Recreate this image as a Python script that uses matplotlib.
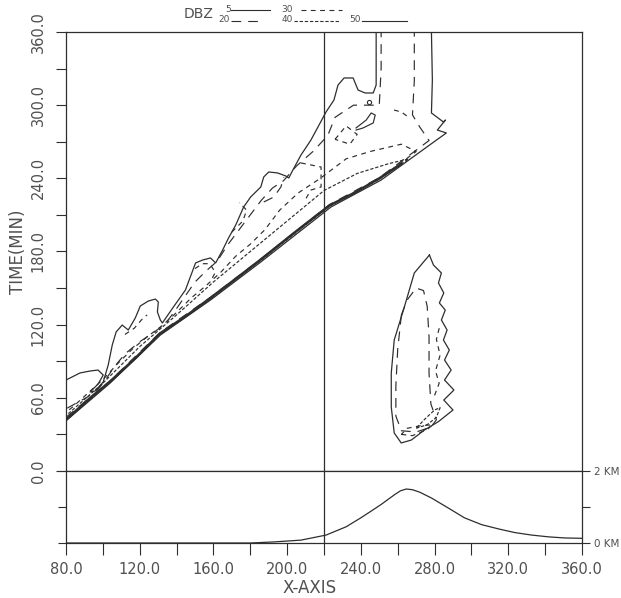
import numpy as np
import matplotlib
matplotlib.use("Agg")
import matplotlib.pyplot as plt
from matplotlib.lines import Line2D
from matplotlib.ticker import MultipleLocator

plt.rcParams['font.family'] = ['DejaVu Sans']
plt.rcParams['lines.scale_dashes'] = False

# ---------------- data (x-axis units, time in minutes) ----------------
# 5 dBZ outer contour of the propagating band (closed)
band5_x = [80.0, 87.6, 93.1, 97.4, 100.2, 97.4, 93.1, 95.8, 100.2, 102.9, 105.1, 107.2, 110.5,
           113.8, 117.6, 120.3, 124.7, 128.5, 130.1, 129.6, 131.2, 132.3, 138.3, 144.8, 150.3,
           154.1, 158.4, 161.2, 165.0, 168.2, 172.1, 176.4, 180.2, 185.7, 187.3, 190.0, 194.9,
           199.3, 200.9, 203.1, 207.5, 212.9, 217.3, 221.1, 225.4, 227.6, 230.9, 235.8, 238.5,
           242.3, 246.7, 248.3, 248.3, 278.3, 278.8, 278.3, 284.8, 285.9, 281.5, 286.4, 282.6,
           251.0, 223.8, 185.7, 158.4, 131.2, 104.0, 80.5, 80.0]
band5_t = [74.6, 80.4, 82.0, 82.8, 78.7, 71.3, 64.8, 65.6, 73.0, 86.9, 103.3, 114.0, 119.7,
           115.6, 125.5, 135.3, 139.4, 141.0, 138.6, 130.4, 123.8, 121.4, 134.5, 148.4, 170.6,
           173.0, 174.7, 170.6, 181.2, 191.1, 201.7, 216.5, 224.7, 232.9, 241.1, 245.2, 244.4,
           241.9, 240.3, 246.8, 259.1, 271.4, 283.7, 294.4, 304.2, 316.5, 322.3, 322.3, 312.4,
           310.0, 310.0, 316.5, 360.0, 360.0, 320.6, 293.6, 286.2, 287.8, 279.6, 277.2, 273.1,
           238.6, 216.5, 171.4, 140.2, 111.5, 72.2, 41.8, 40.2]

# 20 dBZ contour of the band
band20_x = [80.0, 104.0, 131.0, 158.0, 185.0, 223.0, 250.0, 277.0, 272.0, 268.0, 269.0, 269.0,
            251.0, 251.0, 250.0, 236.0, 226.0, 222.0, 214.0, 205.0, 198.0, 192.0, 186.0, 180.0,
            174.0, 168.0, 162.0, 156.0, 150.0, 144.0, 139.0, 134.0, 128.0, 120.0, 112.0, 106.0,
            102.0, 98.0, 92.0, 86.0, 80.0]
band20_t = [44.0, 74.0, 113.5, 142.0, 173.0, 218.5, 240.5, 271.0, 282.0, 292.0, 320.0, 360.0,
            360.0, 330.0, 300.0, 300.0, 290.0, 275.0, 262.0, 250.0, 238.0, 232.0, 222.0, 210.0,
            198.0, 186.0, 172.0, 164.0, 155.0, 142.0, 131.0, 121.0, 114.0, 106.0, 96.0, 85.0,
            76.0, 68.0, 61.0, 56.0, 51.0]

# 30 dBZ contour of the band
band30_x = [81.0, 104.0, 131.0, 158.0, 185.0, 223.0, 250.0, 270.0, 262.0, 245.0, 232.0, 218.0,
            206.0, 196.0, 188.0, 180.0, 172.0, 164.0, 156.0, 148.0, 140.0, 132.0, 124.0, 116.0,
            108.0, 100.0, 92.0, 84.0, 80.0]
band30_t = [43.0, 73.2, 112.5, 141.0, 172.5, 217.5, 239.5, 262.0, 268.0, 262.0, 256.0, 240.0,
            228.0, 214.0, 198.0, 186.0, 176.0, 163.0, 152.0, 142.0, 130.0, 119.0, 110.0, 100.0,
            88.0, 75.0, 64.0, 53.0, 48.0]

# 40 dBZ contour of the band
band40_x = [80.5, 104.0, 131.0, 158.0, 185.0, 223.0, 250.0, 266.0, 255.0, 238.0, 220.0, 200.0,
            180.0, 160.0, 140.0, 120.0, 100.0, 88.0, 80.5]
band40_t = [42.5, 72.8, 112.2, 140.8, 172.0, 217.2, 239.2, 256.0, 252.0, 244.0, 230.0, 205.0,
            180.0, 155.0, 128.0, 102.0, 72.0, 56.0, 46.0]

# 50 dBZ: leading edge core and a small cell in the plume
core50_x = [81.0, 92.0, 104.0, 118.0, 131.0, 145.0, 158.0, 172.0, 185.0, 204.0, 223.0, 237.0,
            250.0, 262.0]
core50_t = [43.5, 58.5, 73.5, 93.0, 112.8, 127.0, 141.5, 157.5, 172.6, 195.5, 217.8, 228.5,
            240.0, 252.0]
cell50_x = [237.4, 242.9, 245.6, 247.8, 246.7, 241.2, 237.4]
cell50_t = [281.3, 287.8, 293.6, 291.9, 285.4, 281.3, 279.6]
dot50_x = [244.5]
dot50_t = [302.6]

# scattered inner pieces of the band
seg20a_x = [187.3, 192.8, 196.6, 198.2]
seg20a_t = [220.6, 224.7, 232.9, 241.1]
seg30a_x = [207.5, 218.4, 218.4, 212.9, 209.1]
seg30a_t = [252.6, 249.3, 232.9, 230.4, 220.6]
seg30b_x = [150.0, 154.0, 158.0, 161.0, 159.0]
seg30b_t = [166.0, 170.0, 170.0, 163.0, 157.0]
seg30c_x = [226.0, 232.0, 238.0, 234.0, 226.0]
seg30c_t = [272.0, 283.0, 276.0, 268.0, 272.0]
seg30d_x = [258.0, 262.0, 265.7]
seg30d_t = [296.0, 294.4, 290.3]
seg30e_x = [112.0, 117.0, 121.0, 124.0]
seg30e_t = [112.0, 117.0, 124.0, 128.0]
seg30f_x = [170.0, 176.0, 178.0, 174.0]
seg30f_t = [196.0, 205.0, 214.0, 220.0]

# isolated cell over the mountain
cell5_x = [277.2, 269.0, 263.6, 258.1, 256.5, 256.5, 258.1, 261.9, 267.4, 274.5, 282.1, 290.0,
           285.0, 290.5, 285.4, 289.0, 285.4, 288.0, 284.8, 286.8, 283.7, 285.8, 282.6, 285.0,
           282.1, 283.7, 279.4, 277.2]
cell5_t = [177.1, 162.4, 134.5, 107.4, 80.4, 52.5, 31.2, 23.0, 25.4, 33.6, 40.5, 50.0,
           58.2, 66.4, 74.6, 82.8, 91.0, 99.2, 107.4, 115.6, 123.8, 132.0, 137.8, 146.0,
           154.2, 162.4, 168.9, 177.1]
cell20_x = [262.0, 260.0, 259.0, 259.0, 262.0, 270.0, 278.0, 281.0, 278.0, 277.0, 277.0, 276.0,
            274.0, 270.0, 265.0, 262.0]
cell20_t = [128.0, 100.0, 70.0, 45.0, 33.0, 32.0, 36.0, 42.0, 55.0, 80.0, 110.0, 135.0,
            148.0, 150.0, 140.0, 128.0]
cell30_x = [262.0, 268.0, 276.0, 279.0, 272.0, 265.0, 262.0]
cell30_t = [30.0, 29.0, 34.0, 38.0, 37.0, 35.0, 30.0]
cell40_x = [270.0, 276.0, 281.0, 283.0, 280.0, 275.0, 270.0]
cell40_t = [35.0, 38.0, 44.0, 52.0, 50.0, 43.0, 35.0]
cellseg_x = [280.0, 282.5, 280.5, 283.0, 281.0, 283.0]
cellseg_t = [62.0, 72.0, 82.0, 95.0, 108.0, 120.0]

# terrain profile (km)
terr_x = [80.0, 153.0, 180.2, 192.8, 207.5, 221.1, 232.0, 240.0, 246.0, 251.0, 255.0, 258.5,
          261.5, 264.7, 268.0, 272.0, 278.3, 287.5, 296.2, 305.5, 314.8, 323.5, 332.7, 342.0,
          350.7, 360.0]
terr_h = [0.0, 0.0, 0.0, 0.03, 0.08, 0.22, 0.45, 0.70, 0.90, 1.07, 1.22, 1.35,
          1.45, 1.50, 1.48, 1.41, 1.25, 0.97, 0.70, 0.51, 0.39, 0.29, 0.22, 0.17,
          0.14, 0.13]

x_ticks = [80, 120, 160, 200, 240, 280, 320, 360]
t_ticks = [0, 60, 120, 180, 240, 300, 360]
x_marker = 220.0
dbz_levels = [5, 20, 30, 40, 50]

# ---------------- drawing ----------------
INK = '#2e2e2e'
TXT = '#505050'
W, H = 621.0, 598.0
fig = plt.figure(figsize=(6.21, 5.98), dpi=100)
fig.patch.set_facecolor('white')


def fxp(p):
    return p / W


def fyp(p):
    return 1 - p / H


L, R, TOP, MID, BOT = 66, 582, 32, 471, 543
ax = fig.add_axes([fxp(L), fyp(MID), fxp(R) - fxp(L), fyp(TOP) - fyp(MID)])
axb = fig.add_axes([fxp(L), fyp(BOT), fxp(R) - fxp(L), fyp(MID) - fyp(BOT)])

STY = {5: '-', 20: (0, (7, 5)), 30: (0, (3.5, 3.2)), 40: (0, (2.4, 1.3)), 50: '-'}


def draw(a, xs, ts, lvl, lw=0.85):
    a.plot(xs, ts, color=INK, lw=lw, linestyle=STY[lvl], solid_joinstyle='round',
           dash_capstyle='butt')


draw(ax, band5_x, band5_t, 5, 0.9)
draw(ax, band20_x, band20_t, 20)
draw(ax, band30_x, band30_t, 30)
draw(ax, band40_x, band40_t, 40)
draw(ax, core50_x, core50_t, 50, 1.8)
draw(ax, cell50_x, cell50_t, 50)
ax.plot(dot50_x, dot50_t, 'o', ms=3, mfc='none', mec=INK, mew=0.8)
draw(ax, seg20a_x, seg20a_t, 20)
draw(ax, seg30a_x, seg30a_t, 30)
draw(ax, seg30b_x, seg30b_t, 30)
draw(ax, seg30c_x, seg30c_t, 30)
draw(ax, seg30d_x, seg30d_t, 30)
draw(ax, seg30e_x, seg30e_t, 30)
draw(ax, seg30f_x, seg30f_t, 30)
draw(ax, cell5_x, cell5_t, 5, 0.9)
draw(ax, cell20_x, cell20_t, 20)
draw(ax, cell30_x, cell30_t, 30)
draw(ax, cell40_x, cell40_t, 40)
draw(ax, cellseg_x, cellseg_t, 30)
ax.axvline(x_marker, color=INK, lw=0.9)

ax.set_xlim(80, 360)
ax.set_ylim(0, 360)
ax.set_yticks(t_ticks)
ax.set_yticklabels([f'{v:.1f}' for v in t_ticks])
ax.yaxis.set_minor_locator(MultipleLocator(30))
ax.tick_params(axis='y', which='both', direction='out', length=7.5, width=0.8,
               colors=INK, labelcolor=TXT, labelsize=10.5, pad=7, labelrotation=90)
for lbl in ax.get_yticklabels():
    lbl.set_va('center')
ax.tick_params(axis='x', which='both', bottom=False, labelbottom=False)
for s in ax.spines.values():
    s.set_color(INK)
    s.set_linewidth(0.9)

axb.plot(terr_x, terr_h, color=INK, lw=0.9)
axb.axvline(x_marker, color=INK, lw=0.9)
axb.set_xlim(80, 360)
axb.set_ylim(0, 2)
axb.set_xticks(x_ticks)
axb.set_xticklabels([f'{v:.1f}' for v in x_ticks])
axb.xaxis.set_minor_locator(MultipleLocator(20))
axb.tick_params(axis='x', which='both', direction='out', length=8.5, width=0.8,
                colors=INK, labelcolor=TXT, labelsize=10.5, pad=5)
axb.set_yticks([0, 1, 2])
axb.set_yticklabels(['0 KM', '', '2 KM'])
axb.tick_params(axis='y', direction='out', left=True, right=True, labelleft=False,
                labelright=True, length=6, width=0.8, colors=INK, labelcolor=TXT,
                labelsize=7.5, pad=3)
for s in axb.spines.values():
    s.set_color(INK)
    s.set_linewidth(0.9)

fig.text(fxp(18), fyp(252), 'TIME(MIN)', rotation=90, ha='center', va='center',
         fontsize=12, color=TXT)
fig.text(fxp(310), fyp(588), 'X-AXIS', ha='center', va='center', fontsize=12, color=TXT)

# legend of contour levels
fig.text(fxp(199), fyp(14), 'DBZ', ha='center', va='center', fontsize=10, color=TXT)
leg = [  # level, label x, label y, line x0, line x1, line y
    (dbz_levels[0], 228, 9, 231, 270, 10),
    (dbz_levels[1], 224, 20, 231, 262, 21),
    (dbz_levels[2], 287, 9, 301, 342, 10),
    (dbz_levels[3], 287, 20, 294, 340, 21),
    (dbz_levels[4], 355, 20, 362, 407, 21),
]
for lvl, lx, ly, x0, x1, yy in leg:
    fig.text(fxp(lx), fyp(ly), str(lvl), ha='center', va='center', fontsize=6.5, color=TXT)
    fig.add_artist(Line2D([fxp(x0), fxp(x1)], [fyp(yy), fyp(yy)], color=INK, lw=0.8,
                          linestyle=STY[lvl]))

fig.savefig('out.png', dpi=100)
